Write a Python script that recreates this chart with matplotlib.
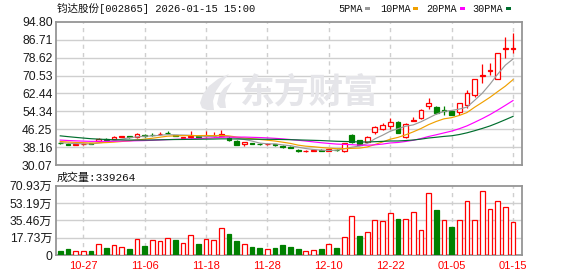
import matplotlib
matplotlib.use('Agg')
import matplotlib.pyplot as plt
import numpy as np
import pandas as pd
from matplotlib.patches import Polygon, Rectangle

# ---------------- data ----------------
title = '钧达股份[002865] 2026-01-15 15:00'
tick_idx = [3, 11, 19, 27, 35, 43, 51, 59]
tick_labels = ['10-27', '11-06', '11-18', '11-28', '12-10', '12-22', '01-05', '01-15']

price_ticks = [30.07, 38.16, 46.25, 54.34, 62.44, 70.53, 78.62, 86.71, 94.80]
vol_ticks = [0, 17.73, 35.46, 53.19, 70.93]
vol_tick_labels = ['0', '17.73万', '35.46万', '53.19万', '70.93万']
last_volume = '339264'

# closes before the first visible bar (only used for the moving averages)
prior_close = [50.0, 49.5, 49.0, 48.5, 47.5, 46.8, 46.0, 45.3, 44.6, 43.8,
               43.0, 42.6, 42.2, 41.9, 41.6, 41.7, 41.8, 41.6, 41.5, 42.1,
               41.5, 41.2, 41.0, 41.3, 41.0, 40.6, 40.4, 40.2, 40.0]

open_ = [40.2, 39.8, 39.3, 39.5, 39.9, 40.9, 41.9, 41.8, 42.8, 43.2,
         42.7, 43.8, 43.6, 43.9, 44.6, 43.6, 42.2, 42.7, 43.3, 43.0,
         43.1, 43.3, 42.2, 40.9, 39.6, 40.0, 39.8, 39.4, 39.4, 38.8,
         38.3, 36.9, 36.4, 36.5, 36.9, 36.5, 37.0, 36.5, 43.6, 41.4,
         40.6, 44.9, 46.5, 47.7, 49.4, 42.9, 50.2, 51.2, 56.8, 56.2,
         54.8, 54.6, 53.9, 57.3, 61.8, 70.5, 72.4, 69.2, 82.7, 82.8]
high = [40.3, 39.9, 39.7, 39.9, 40.1, 42.3, 42.2, 43.0, 43.3, 43.4,
        44.4, 44.0, 44.6, 44.8, 45.3, 43.8, 42.9, 45.5, 43.5, 45.5,
        45.0, 45.9, 43.0, 41.2, 40.5, 40.2, 40.0, 39.9, 39.6, 39.0,
        38.6, 37.2, 36.9, 37.0, 37.1, 37.3, 37.3, 40.1, 44.3, 41.6,
        43.2, 47.6, 48.9, 51.2, 50.0, 49.0, 51.7, 55.2, 60.3, 56.9,
        56.6, 54.8, 58.2, 64.1, 69.2, 76.0, 76.4, 80.8, 88.2, 89.8]
low = [39.6, 38.9, 39.2, 39.3, 39.4, 40.6, 41.3, 41.6, 42.6, 42.5,
       42.5, 42.8, 43.2, 43.7, 44.0, 43.0, 42.0, 42.5, 42.7, 42.8,
       42.9, 43.0, 41.0, 39.0, 38.7, 39.4, 39.2, 39.1, 38.7, 37.8,
       37.6, 36.0, 35.9, 36.3, 36.3, 36.3, 36.6, 36.1, 40.0, 38.9,
       40.3, 44.2, 45.8, 46.5, 44.5, 42.4, 49.8, 51.0, 55.3, 53.2,
       52.9, 52.5, 52.8, 55.9, 61.0, 67.2, 70.8, 68.8, 78.6, 80.8]
close = [39.9, 39.2, 39.5, 39.7, 39.6, 42.0, 41.6, 42.6, 43.1, 42.7,
         44.0, 43.0, 43.5, 44.3, 44.4, 43.2, 42.7, 43.0, 42.9, 43.2,
         43.3, 44.1, 41.2, 39.2, 40.3, 39.7, 39.5, 39.6, 39.0, 38.0,
         37.9, 36.2, 36.5, 36.8, 36.6, 37.1, 36.8, 39.9, 40.3, 39.1,
         42.9, 47.4, 48.0, 49.4, 44.7, 48.6, 50.4, 55.0, 58.0, 53.5,
         54.7, 52.7, 58.0, 62.5, 68.9, 70.8, 73.1, 80.6, 82.9, 82.9]

# volume in units of 万 (10,000 shares)
volume = [4.4, 6.1, 4.1, 4.0, 4.3, 11.3, 7.2, 10.2, 8.2, 6.1,
          16.4, 9.2, 15.4, 14.3, 17.4, 15.4, 12.3, 20.5, 11.3, 16.4,
          15.4, 27.6, 21.5, 14.3, 11.3, 8.2, 7.2, 6.1, 7.2, 10.2,
          8.2, 6.1, 4.4, 5.5, 5.8, 10.9, 7.2, 18.1, 39.6, 19.4,
          23.2, 35.5, 34.5, 42.7, 36.8, 36.5, 43.7, 25.3, 63.1, 46.1,
          35.5, 28.7, 35.5, 54.9, 35.5, 65.2, 46.8, 54.9, 48.8, 33.93]
# 1 = close above previous close (red), 0 = below (green)
vol_up = [0, 0, 1, 1, 0, 1, 0, 1, 1, 0,
          1, 0, 1, 1, 1, 0, 1, 1, 0, 1,
          1, 1, 0, 0, 1, 0, 0, 1, 0, 0,
          0, 0, 1, 1, 0, 1, 0, 1, 1, 0,
          1, 1, 1, 1, 0, 1, 1, 1, 1, 0,
          1, 0, 1, 1, 1, 1, 1, 1, 1, 1]

ma_windows = [5, 10, 20, 30]
ma_names = ['5PMA', '10PMA', '20PMA', '30PMA']
ma_colors = ['#9a9a9a', '#f0a000', '#ff00ff', '#006e2e']

# ---------------- styling ----------------
RED = '#ff0000'
GREEN = '#008000'
GRID = '#cfcfcf'
FRAME = '#959595'
W, H = 578, 276

def fx(px):
    return px / W

def fy(py):
    return 1 - py / H

fig = plt.figure(figsize=(W / 100, H / 100), dpi=100)
fig.patch.set_facecolor('white')

ax = fig.add_axes([fx(56), fy(165), (522 - 56) / W, (165 - 22) / H])
axv = fig.add_axes([fx(56), fy(255), (522 - 56) / W, (255 - 185.7) / H])

n = len(close)
x = np.arange(n)
o = np.array(open_); c = np.array(close); h = np.array(high); l = np.array(low)
xlim = (-0.55, n - 1 + 1.17)

for a in (ax, axv):
    a.set_xlim(*xlim)
    for s in a.spines.values():
        s.set_color(FRAME)
        s.set_linewidth(1.3)
    a.tick_params(axis='both', length=0)
    a.set_xticks([])
    for t in tick_idx:
        a.axvline(t, color=GRID, lw=1.0, ls=(0, (3, 3)), zorder=0.5)

# price panel
ax.set_ylim(price_ticks[0], price_ticks[-1])
ax.set_yticks(price_ticks)
ax.set_yticklabels(['%.2f' % v for v in price_ticks], fontfamily='Liberation Sans',
                   fontsize=8.7, color='#1a1a1a')
ax.tick_params(axis='y', pad=2.5)
for v in price_ticks[1:-1]:
    ax.axhline(v, color=GRID, lw=1.0, zorder=0.5)

# watermark
ax.text(fx(309), fy(92), '东方财富', transform=fig.transFigure, ha='center', va='center',
        fontsize=25, fontweight='bold', family=['Noto Sans CJK SC'], color='#e5e5e9', zorder=0.6)
logo1 = [(200, 103), (203, 94), (209, 86), (218, 79), (229, 74), (222, 82), (216, 91),
         (213, 101), (214, 110), (207, 110), (202, 108)]
logo2 = [(217, 104), (219, 95), (224, 88), (232, 82), (227, 91), (225, 100), (226, 108), (220, 108)]
for pts in (logo1, logo2):
    ax.add_patch(Polygon([(fx(px), fy(py)) for px, py in pts], closed=True,
                         transform=fig.transFigure, facecolor='#e5e5e9', edgecolor='none', zorder=0.6))

# candles
bw = 0.62
up = c >= o
for i in range(n):
    top, bot = max(o[i], c[i]), min(o[i], c[i])
    if up[i]:
        ax.vlines(x[i], top, h[i], color=RED, lw=0.9, zorder=3)
        ax.vlines(x[i], l[i], bot, color=RED, lw=0.9, zorder=3)
        ax.add_patch(Rectangle((x[i] - bw / 2, bot), bw, max(top - bot, 0.01),
                               facecolor='white', edgecolor=RED, lw=0.9, zorder=3))
    else:
        ax.vlines(x[i], l[i], h[i], color=GREEN, lw=0.9, zorder=3)
        ax.add_patch(Rectangle((x[i] - bw / 2, bot), bw, max(top - bot, 0.15),
                               facecolor=GREEN, edgecolor=GREEN, lw=0.9, zorder=3))

# moving averages
all_close = pd.Series(prior_close + close)
for win, col in zip(ma_windows, ma_colors):
    ma = all_close.rolling(win).mean().iloc[len(prior_close):].to_numpy()
    ax.plot(x, ma, color=col, lw=0.85, zorder=4)

# volume panel
axv.set_ylim(0, vol_ticks[-1])
axv.set_yticks(vol_ticks)
axv.set_yticklabels(vol_tick_labels, family=['Liberation Sans', 'Noto Sans CJK SC'],
                    fontsize=8.7, color='#1a1a1a')
axv.tick_params(axis='y', pad=2.5)
for v in vol_ticks[1:-1]:
    axv.axhline(v, color=GRID, lw=1.0, zorder=0.5)
vol = np.array(volume)
vu = np.array(vol_up) == 1
axv.bar(x[vu], vol[vu], width=bw, facecolor='white', edgecolor=RED, lw=0.9, zorder=3)
axv.bar(x[~vu], vol[~vu], width=bw, facecolor=GREEN, edgecolor=GREEN, lw=0.9, zorder=3)

# date labels
for t, lab in zip(tick_idx, tick_labels):
    axv.text(t, -0.165, lab, transform=axv.get_xaxis_transform(), ha='center', va='center',
             fontsize=8.0, family='Liberation Sans', color=RED)

# titles
fig.text(fx(57), fy(8.5), title, ha='left', va='center', fontsize=7.6,
         family=['Liberation Mono', 'Noto Sans CJK SC'], color='#111111')
fig.text(fx(57), fy(177.7), '成交量:' + last_volume, ha='left', va='center', fontsize=7.9,
         family=['Liberation Mono', 'Noto Sans CJK SC'], color='#111111')

# MA legend
leg_x = [338, 380, 426, 472]
sq_x = [365, 413, 460, 506]
for name, col, tx, sx in zip(ma_names, ma_colors, leg_x, sq_x):
    fig.text(fx(tx), fy(8.5), name, ha='left', va='center', fontsize=7.3,
             family='Liberation Mono', color='#111111')
    fig.patches.append(Rectangle((fx(sx), fy(10)), 5 / W, 3 / H, transform=fig.transFigure,
                                 facecolor=col, edgecolor='none'))

fig.savefig('out.png', dpi=100)
